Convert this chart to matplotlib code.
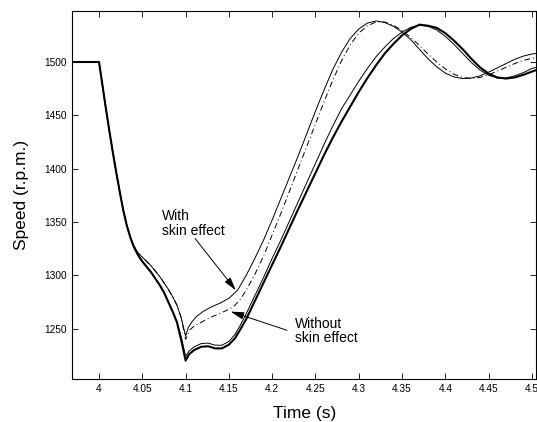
import matplotlib
matplotlib.use("Agg")
import matplotlib.pyplot as plt
from matplotlib.ticker import FormatStrFormatter, FuncFormatter

plt.rcParams['font.family'] = ['Liberation Sans', 'DejaVu Sans']

# shared part of the drop, all four runs lie on top of each other here
t_drop = [3.96, 4.000, 4.004, 4.008, 4.012, 4.016, 4.020, 4.024, 4.028, 4.032, 4.036]
w_drop = [1500, 1500, 1478, 1456, 1435, 1415, 1396, 1378, 1361, 1347, 1336]

# time samples used by every run after the dip
t_tail = [4.17, 4.18, 4.19, 4.20, 4.21, 4.22, 4.23, 4.24, 4.25, 4.26, 4.27,
          4.28, 4.29, 4.30, 4.31, 4.32, 4.33, 4.34, 4.35, 4.36, 4.37, 4.38,
          4.39, 4.40, 4.41, 4.42, 4.43, 4.44, 4.45, 4.46, 4.47, 4.48, 4.49,
          4.50, 4.505]

# lower pair (thick + thin solid)
t_low_fall = [4.040, 4.045, 4.050, 4.055, 4.060, 4.065, 4.070, 4.075, 4.080,
              4.085, 4.090, 4.095, 4.100]
t_low_dip = [4.104, 4.11, 4.118, 4.126, 4.134, 4.142, 4.15, 4.157, 4.163]

thick_fall = [1327, 1319, 1313, 1308, 1303, 1297, 1291, 1284, 1275, 1266, 1256, 1239, 1220]
thick_dip = [1226, 1230, 1233, 1233.5, 1231.5, 1231.5, 1235, 1241, 1249]
thick_tail = [1259, 1276, 1293, 1310, 1327, 1344.5, 1362, 1379, 1396, 1413, 1429,
              1444, 1458, 1472, 1485, 1497, 1508, 1517, 1525, 1531, 1535, 1534,
              1532, 1527, 1520, 1512, 1503, 1495, 1489, 1485.5, 1484.5, 1485.5, 1488,
              1491, 1492.5]

lthin_fall = [1327, 1319, 1313, 1308, 1303, 1297, 1291, 1284, 1275, 1266, 1256, 1242, 1224]
lthin_dip = [1229, 1233, 1236, 1236.5, 1234.5, 1234.5, 1238, 1244.5, 1253]
lthin_tail = [1264, 1281, 1298, 1316, 1333, 1351, 1369, 1387, 1405, 1423, 1440,
              1456, 1469, 1482, 1494, 1505, 1514, 1522, 1528, 1532.5, 1534.5, 1533.5,
              1530, 1524, 1516.5, 1508, 1499.5, 1492.5, 1487.5, 1485, 1485, 1487, 1490,
              1494, 1495]

# upper pair (with skin effect: thin solid, without: dash-dot)
t_up_fall = [4.040, 4.045, 4.050, 4.055, 4.060, 4.065, 4.070, 4.075, 4.080,
             4.085, 4.090, 4.095]
up_fall = [1328, 1321, 1317, 1313, 1309, 1304, 1299, 1293, 1287, 1280, 1272, 1260]

t_skin_dip = [4.100, 4.103, 4.107, 4.112, 4.12, 4.13, 4.14, 4.15, 4.16]
skin_dip = [1243, 1251, 1256, 1261, 1266, 1270.5, 1274, 1278.5, 1286]
skin_tail = [1300, 1316, 1333, 1352, 1372, 1392, 1412, 1433, 1454, 1474, 1493,
             1509, 1522, 1531, 1536.5, 1538.5, 1537, 1533.5, 1528, 1521, 1512, 1503,
             1495.5, 1489.5, 1486, 1484.5, 1485, 1487, 1490.5, 1494.5, 1498.5, 1502.5,
             1505.5, 1507.5, 1508]

t_noskin_dip = [4.100, 4.105, 4.11, 4.117, 4.125, 4.133, 4.14, 4.147, 4.155, 4.162]
noskin_dip = [1240, 1249, 1252.5, 1255.5, 1259, 1262, 1264.5, 1267, 1270.5, 1276]
noskin_tail = [1286, 1301, 1318, 1338, 1358, 1379, 1400, 1421, 1442, 1463, 1483,
               1501, 1516, 1527, 1534, 1537.5, 1537.5, 1534.5, 1529.5, 1523, 1515.5, 1507.5,
               1500, 1493.5, 1488.5, 1485.5, 1484.5, 1485.5, 1488, 1491.5, 1495, 1498.5,
               1501.5, 1503.5, 1504]

fig = plt.figure(figsize=(5.37, 4.22), dpi=100)
ax = fig.add_axes([0.1341, 0.1019, 0.8649, 0.872])

ax.plot(t_drop + t_low_fall + t_low_dip + t_tail,
        w_drop + thick_fall + thick_dip + thick_tail, color='k', lw=1.5)
ax.plot(t_drop + t_low_fall + t_low_dip + t_tail,
        w_drop + lthin_fall + lthin_dip + lthin_tail, color='k', lw=0.7)
ax.plot(t_drop + t_up_fall + t_noskin_dip + t_tail,
        w_drop + up_fall + noskin_dip + noskin_tail, color='k', lw=0.7,
        dashes=(6, 3, 1, 3))
ax.plot(t_drop + t_up_fall + t_skin_dip + t_tail,
        w_drop + up_fall + skin_dip + skin_tail, color='k', lw=0.7)

ax.set_xlim(3.9688, 4.5052)
ax.set_ylim(1202.8, 1547.8)
ax.set_xticks([4, 4.05, 4.1, 4.15, 4.2, 4.25, 4.3, 4.35, 4.4, 4.45, 4.5])
ax.set_yticks([1250, 1300, 1350, 1400, 1450, 1500])
ax.xaxis.set_major_formatter(FuncFormatter(lambda v, p: '%g' % round(v, 2)))
ax.yaxis.set_major_formatter(FormatStrFormatter('%d'))
ax.tick_params(direction='in', length=4, width=0.6, top=True, right=True,
               labelsize=7.3, pad=3.5)
for sp in ax.spines.values():
    sp.set_linewidth(0.8)

ax.set_xlabel('Time (s)', fontsize=12.5, labelpad=8.5)
ax.set_ylabel('Speed (r.p.m.)', fontsize=12.5, labelpad=11)

arrow = dict(arrowstyle='-|>,head_length=0.8,head_width=0.22', color='k',
             lw=0.7, mutation_scale=10, shrinkA=0, shrinkB=0)
ax.annotate('With\nskin effect', xy=(4.158, 1286), xytext=(4.0725, 1348.5),
            fontsize=10, ha='left', va='center', linespacing=1.05)
ax.annotate('', xy=(4.158, 1286), xytext=(4.111, 1334.5), arrowprops=arrow)
ax.annotate('Without\nskin effect', xy=(4.152, 1266), xytext=(4.2263, 1248),
            fontsize=10, ha='left', va='center', linespacing=1.05)
ax.annotate('', xy=(4.152, 1266), xytext=(4.217, 1248.5), arrowprops=arrow)

fig.savefig('out.png', dpi=100)
